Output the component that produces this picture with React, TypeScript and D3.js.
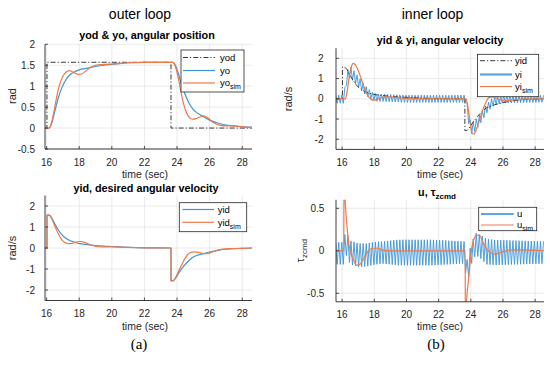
import React from 'react';
import * as d3 from 'd3';

// ---------- DATA ----------
const xTicks = [16, 18, 20, 22, 24, 26, 28];
const yTicksPos = [-0.5, 0, 0.5, 1, 1.5, 2];
const yTicksVel = [-2, -1, 0, 1, 2];
const yTicksU = [-0.5, 0, 0.5];

// outer loop: angular position
const yodT = [15.9, 16.02, 16.021, 23.63, 23.631, 28.6];
const yodV = [0, 0, 1.571, 1.571, 0, 0];
const yoT = [15.9, 16.15, 16.3, 16.5, 16.7, 16.9, 17.1, 17.4, 17.7, 18.0, 18.5, 19.0, 19.5, 20.0, 20.5, 21.0, 22.0, 23.75, 23.9, 24.1, 24.3, 24.5, 24.8, 25.0, 25.5, 26.0, 26.5, 27.0, 27.5, 28.0, 28.6];
const yoV = [0, 0, 0.1, 0.4, 0.7, 0.93, 1.1, 1.26, 1.34, 1.39, 1.43, 1.47, 1.5, 1.52, 1.54, 1.56, 1.57, 1.57, 1.5, 1.28, 1.0, 0.8, 0.55, 0.44, 0.3, 0.19, 0.12, 0.07, 0.05, 0.03, 0.02];
const yoSimT = [15.9, 16.15, 16.3, 16.5, 16.7, 16.9, 17.1, 17.4, 17.65, 17.95, 18.15, 18.4, 18.7, 19.0, 19.5, 20.0, 21.0, 22.0, 23.75, 23.9, 24.1, 24.3, 24.5, 24.7, 24.95, 25.2, 25.45, 25.65, 25.9, 26.2, 26.6, 27.0, 27.5, 28.0, 28.6];
const yoSimV = [0, 0, 0.13, 0.5, 0.9, 1.15, 1.3, 1.37, 1.33, 1.28, 1.29, 1.36, 1.45, 1.5, 1.52, 1.53, 1.56, 1.57, 1.57, 1.47, 1.15, 0.75, 0.45, 0.28, 0.21, 0.23, 0.27, 0.29, 0.24, 0.14, 0.07, 0.05, 0.05, 0.03, 0.01];

// desired angular velocity
const yidT = [15.6, 16.02, 16.021, 16.15, 16.3, 16.5, 16.7, 16.9, 17.2, 17.5, 17.8, 18.1, 18.5, 19.0, 19.5, 20.0, 21.0, 22.0, 23.63, 23.631, 23.75, 23.9, 24.1, 24.4, 24.7, 25.0, 25.5, 26.0, 26.5, 27.0, 27.5, 28.0, 28.6];
const yidV = [0, 0, 1.57, 1.57, 1.45, 1.15, 0.88, 0.66, 0.45, 0.33, 0.25, 0.2, 0.16, 0.12, 0.09, 0.07, 0.03, 0.01, 0, -1.57, -1.57, -1.45, -1.2, -0.88, -0.62, -0.43, -0.29, -0.19, -0.11, -0.06, -0.03, -0.02, 0];
const yidSimT = [15.9, 16.02, 16.021, 16.15, 16.3, 16.5, 16.7, 16.9, 17.1, 17.3, 17.55, 17.8, 18.05, 18.3, 18.6, 18.9, 19.2, 19.6, 20.0, 20.5, 21.0, 22.0, 23.63, 23.631, 23.75, 23.9, 24.1, 24.3, 24.5, 24.7, 24.9, 25.1, 25.4, 25.7, 25.9, 26.2, 26.5, 26.8, 27.2, 28.0, 28.6];
const yidSimV = [0, 0, 1.55, 1.57, 1.42, 1.05, 0.7, 0.42, 0.27, 0.21, 0.22, 0.28, 0.31, 0.28, 0.18, 0.1, 0.06, 0.05, 0.06, 0.04, 0.03, 0.01, 0, -1.55, -1.57, -1.42, -1.1, -0.78, -0.48, -0.28, -0.2, -0.18, -0.22, -0.28, -0.26, -0.18, -0.1, -0.05, -0.03, -0.02, 0];

// inner loop: angular velocity
const yiSimT = [15.6, 16.2, 16.3, 16.4, 16.5, 16.6, 16.7, 16.8, 17.0, 17.2, 17.4, 17.6, 17.8, 18.0, 18.2, 18.5, 18.8, 19.2, 19.6, 20.0, 21.0, 23.7, 23.8, 23.9, 24.0, 24.1, 24.2, 24.3, 24.5, 24.7, 24.9, 25.05, 25.2, 25.35, 25.55, 25.8, 26.1, 26.4, 26.8, 27.2, 28.6];
const yiSimV = [0, 0, 0.3, 0.85, 1.35, 1.65, 1.75, 1.7, 1.4, 0.95, 0.5, 0.15, -0.03, -0.07, -0.02, 0.07, 0.1, 0.08, 0.04, 0.02, 0, 0, -0.3, -0.85, -1.4, -1.72, -1.75, -1.6, -1.15, -0.65, -0.25, 0, 0.08, 0.1, 0.05, -0.05, -0.1, -0.08, -0.04, -0.02, 0];
const yiTrendT = [15.6, 16.1, 16.2, 16.3, 16.45, 16.6, 16.8, 17.0, 17.3, 17.6, 17.9, 18.2, 18.6, 19.0, 20.0, 23.7, 23.8, 23.9, 24.05, 24.2, 24.4, 24.7, 25.0, 25.3, 25.6, 26.0, 28.6];
const yiTrendV = [-0.02, -0.02, 0.5, 1.1, 1.3, 1.25, 1.05, 0.85, 0.55, 0.3, 0.12, 0.05, 0.05, 0.03, 0.0, 0.0, -0.6, -1.2, -1.45, -1.4, -1.2, -0.85, -0.47, -0.2, -0.07, -0.02, 0];
const yiAmpT = [15.6, 16.1, 16.5, 18.0, 23.7, 24.0, 25.5, 28.6];
const yiAmpV = [0.2, 0.2, 0.3, 0.18, 0.18, 0.27, 0.2, 0.17];

// control torque
const uSimT = [15.6, 16.1, 16.12, 16.2, 16.3, 16.4, 16.5, 16.7, 16.9, 17.1, 17.35, 17.6, 17.9, 18.2, 18.5, 19.0, 23.65, 23.66, 23.75, 23.85, 23.95, 24.05, 24.2, 24.35, 24.55, 24.75, 24.95, 25.2, 25.45, 25.7, 26.0, 26.5, 27.0, 28.6];
const uSimV = [0, 0, 0.9, 0.55, 0.3, 0.1, 0.0, -0.1, -0.17, -0.16, -0.09, -0.01, 0.03, 0.03, 0.01, 0, 0, -0.9, -0.55, -0.35, -0.15, 0.02, 0.14, 0.185, 0.18, 0.1, 0.03, -0.02, -0.04, -0.03, -0.01, 0.01, 0.01, 0];
const uTrendT = [15.6, 16.1, 16.2, 16.35, 16.5, 17.0, 17.5, 18.0, 18.5, 23.65, 23.7, 23.85, 24.0, 24.3, 24.6, 25.0, 25.5, 28.6];
const uTrendV = [-0.03, -0.03, 0.1, 0.05, -0.02, -0.05, -0.05, -0.03, -0.02, -0.02, -0.25, -0.2, -0.05, 0.08, 0.05, -0.01, -0.02, -0.02];
const uAmpT = [15.6, 16.1, 16.5, 18.5, 19.5, 21.5, 23.6, 24.0, 25.0, 28.6];
const uAmpV = [0.13, 0.13, 0.14, 0.13, 0.15, 0.15, 0.13, 0.12, 0.15, 0.13];
const oscHalfPeriod = 0.095;

// ---------- STYLE ----------
const BLUE = '#3d95d6';
const ORANGE = '#ee7a4c';
const DASHC = '#3a3a3a';
const AX = '#262626';
const GRID = '#e4e4e4';
const FONT = "'Liberation Sans', Arial, Helvetica, sans-serif";
const SERIF = "'Liberation Serif', 'Times New Roman', serif";
const DASHDOT = '5,2,1.2,2';

type P = [number, number];
const pairs = (T: number[], V: number[]): P[] => T.map((t, i) => [t, V[i]]);

function oscillating(trT: number[], trV: number[], amT: number[], amV: number[], half: number): P[] {
  const tr = d3.scaleLinear().domain(trT).range(trV);
  const am = d3.scaleLinear().domain(amT).range(amV);
  const t0 = trT[0], t1 = trT[trT.length - 1];
  const n = Math.floor((t1 - t0) / half);
  return d3.range(n + 1).map((k) => {
    const t = t0 + k * half;
    return [t, tr(t) + (k % 2 === 0 ? 1 : -1) * am(t)] as P;
  });
}

type Line = { pts: P[]; color: string; width: number; dash?: string; curve?: any };
type LegendEntry = { label: string; sub?: string; color: string; width: number; dash?: string };
type Legend = { x: number; y: number; w: number; h: number; rows: number[]; lx0: number; lx1: number; tx: number; entries: LegendEntry[] };

function Panel(props: {
  id: string; x0: number; x1: number; y0: number; y1: number;
  xDom: [number, number]; yDom: [number, number]; yTicks: number[]; labelRight: number;
  lines: Line[]; legend: Legend;
}) {
  const { id, x0, x1, y0, y1, xDom, yDom, yTicks, labelRight, lines, legend } = props;
  const x = d3.scaleLinear().domain(xDom).range([x0, x1]);
  const y = d3.scaleLinear().domain(yDom).range([y1, y0]);
  const mk = (l: Line) =>
    d3.line<P>().x((d) => x(d[0])).y((d) => y(d[1])).curve(l.curve || d3.curveLinear)(l.pts) || '';
  return (
    <g>
      <defs>
        <clipPath id={'clip-' + id}>
          <rect x={x0} y={y0} width={x1 - x0} height={y1 - y0} />
        </clipPath>
      </defs>
      <rect x={x0} y={y0} width={x1 - x0} height={y1 - y0} fill="#fff" />
      {xTicks.map((t) => (
        <line key={'gx' + t} x1={x(t)} x2={x(t)} y1={y0} y2={y1} stroke={GRID} strokeWidth={0.8} />
      ))}
      {yTicks.map((t) => (
        <line key={'gy' + t} x1={x0} x2={x1} y1={y(t)} y2={y(t)} stroke={GRID} strokeWidth={0.8} />
      ))}
      <g clipPath={`url(#clip-${id})`}>
        {lines.map((l, i) => (
          <path key={i} d={mk(l)} fill="none" stroke={l.color} strokeWidth={l.width} strokeDasharray={l.dash} strokeLinejoin="round" />
        ))}
      </g>
      <line x1={x0} x2={x0} y1={y0} y2={y1} stroke={AX} strokeWidth={0.9} />
      <line x1={x0} x2={x1} y1={y1} y2={y1} stroke={AX} strokeWidth={0.9} />
      {xTicks.map((t) => (
        <g key={'tx' + t}>
          <line x1={x(t)} x2={x(t)} y1={y1} y2={y1 - 3} stroke={AX} strokeWidth={0.8} />
          <text x={x(t)} y={y1 + 16.5} textAnchor="middle" fontSize={10} fill={AX} fontFamily={FONT}>{t}</text>
        </g>
      ))}
      {yTicks.map((t) => (
        <g key={'ty' + t}>
          <line x1={x0} x2={x0 + 3} y1={y(t)} y2={y(t)} stroke={AX} strokeWidth={0.8} />
          <text x={labelRight} y={y(t) + 3.6} textAnchor="end" fontSize={10} fill={AX} fontFamily={FONT}>{String(t)}</text>
        </g>
      ))}
      <rect x={legend.x} y={legend.y} width={legend.w} height={legend.h} fill="#fff" stroke={AX} strokeWidth={0.8} />
      {legend.entries.map((e, i) => (
        <g key={'lg' + i}>
          <line x1={legend.lx0} x2={legend.lx1} y1={legend.rows[i]} y2={legend.rows[i]} stroke={e.color} strokeWidth={e.width} strokeDasharray={e.dash} />
          <text x={legend.tx} y={legend.rows[i] + 3.3} fontSize={9.5} fill="#000" fontFamily={FONT}>
            {e.label}
            {e.sub ? <tspan dy={3} fontSize={7}>{e.sub}</tspan> : null}
          </text>
        </g>
      ))}
    </g>
  );
}

export default function App() {
  const smooth = d3.curveMonotoneX;
  const legendDash = { color: DASHC, width: 1, dash: DASHDOT };
  return (
    <svg width={550} height={367} style={{ position: 'absolute', left: 0, top: 0, background: '#fff' }} fontFamily={FONT}>
      <rect x={0} y={0} width={550} height={367} fill="#fff" />
      <text x={140} y={18.5} textAnchor="middle" fontSize={14} fill="#000">outer loop</text>
      <text x={432.5} y={18.5} textAnchor="middle" fontSize={14} fill="#000">inner loop</text>

      {/* top-left */}
      <text x={147} y={38.5} textAnchor="middle" fontSize={10.8} fontWeight="bold" fill="#000">yod &amp; yo, angular position</text>
      <Panel
        id="tl" x0={45} x1={252} y0={44.3} y1={149} xDom={[15.9, 28.6]} yDom={[-0.5, 2]} yTicks={yTicksPos} labelRight={35}
        lines={[
          { pts: pairs(yodT, yodV), color: DASHC, width: 1, dash: DASHDOT },
          { pts: pairs(yoT, yoV), color: BLUE, width: 1.2, curve: smooth },
          { pts: pairs(yoSimT, yoSimV), color: ORANGE, width: 1.2, curve: smooth },
        ]}
        legend={{
          x: 181, y: 50, w: 63, h: 42, rows: [57.5, 70.5, 83], lx0: 183, lx1: 215, tx: 220,
          entries: [
            { label: 'yod', ...legendDash },
            { label: 'yo', color: BLUE, width: 1.2 },
            { label: 'yo', sub: 'sim', color: ORANGE, width: 1.2 },
          ],
        }}
      />
      <text x={145} y={177.5} textAnchor="middle" fontSize={10.5} fill={AX}>time (sec)</text>
      <text transform="translate(15.5,96) rotate(-90)" textAnchor="middle" fontSize={11} fill={AX}>rad</text>

      {/* top-right */}
      <text x={440} y={44} textAnchor="middle" fontSize={10.8} fontWeight="bold" fill="#000">yid &amp; yi, angular velocity</text>
      <Panel
        id="tr" x0={336} x1={544} y0={48.2} y1={149.4} xDom={[15.62, 28.55]} yDom={[-2.5, 2.5]} yTicks={yTicksVel} labelRight={323.5}
        lines={[
          { pts: oscillating(yiTrendT, yiTrendV, yiAmpT, yiAmpV, oscHalfPeriod), color: BLUE, width: 0.9 },
          { pts: pairs(yidT, yidV), color: DASHC, width: 1, dash: DASHDOT },
          { pts: pairs(yiSimT, yiSimV), color: ORANGE, width: 1.2, curve: smooth },
        ]}
        legend={{
          x: 477.5, y: 54.3, w: 61.2, h: 42.4, rows: [60.7, 74.5, 86.5], lx0: 480, lx1: 512, tx: 515,
          entries: [
            { label: 'yid', ...legendDash },
            { label: 'yi', color: '#5aa6e0', width: 2.2 },
            { label: 'yi', sub: 'sim', color: ORANGE, width: 1.2 },
          ],
        }}
      />
      <text x={440} y={177.5} textAnchor="middle" fontSize={10.5} fill={AX}>time (sec)</text>
      <text transform="translate(291.5,99) rotate(-90)" textAnchor="middle" fontSize={11} fill={AX}>rad/s</text>

      {/* bottom-left */}
      <text x={146} y={191.5} textAnchor="middle" fontSize={10.8} fontWeight="bold" fill="#000">yid, desired angular velocity</text>
      <Panel
        id="bl" x0={45} x1={252} y0={195.5} y1={300.5} xDom={[15.9, 28.6]} yDom={[-2.5, 2.5]} yTicks={yTicksVel} labelRight={35}
        lines={[
          { pts: pairs(yidT, yidV), color: BLUE, width: 1.2, curve: smooth },
          { pts: pairs(yidSimT, yidSimV), color: ORANGE, width: 1.2, curve: smooth },
        ]}
        legend={{
          x: 179.3, y: 202.7, w: 67.4, h: 29, rows: [209.5, 222.3], lx0: 182.3, lx1: 214, tx: 217.7,
          entries: [
            { label: 'yid', color: BLUE, width: 1.2 },
            { label: 'yid', sub: 'sim', color: ORANGE, width: 1.2 },
          ],
        }}
      />
      <text x={145} y={329.5} textAnchor="middle" fontSize={10.5} fill={AX}>time (sec)</text>
      <text transform="translate(15.5,248) rotate(-90)" textAnchor="middle" fontSize={11} fill={AX}>rad/s</text>

      {/* bottom-right */}
      <text x={437} y={195.7} textAnchor="middle" fontSize={10.8} fontWeight="bold" fill="#000">
        u, τ<tspan dy={3} fontSize={8}>zcmd</tspan>
      </text>
      <Panel
        id="br" x0={336} x1={544} y0={199.8} y1={301.8} xDom={[15.62, 28.55]} yDom={[-0.6, 0.6]} yTicks={yTicksU} labelRight={324.3}
        lines={[
          { pts: oscillating(uTrendT, uTrendV, uAmpT, uAmpV, oscHalfPeriod), color: BLUE, width: 0.9 },
          { pts: pairs(uSimT, uSimV), color: ORANGE, width: 1.2, curve: smooth },
        ]}
        legend={{
          x: 478.7, y: 207.3, w: 58, h: 23.4, rows: [214, 225], lx0: 481, lx1: 513.7, tx: 517,
          entries: [
            { label: 'u', color: '#5aa6e0', width: 2.2 },
            { label: 'u', sub: 'sim', color: ORANGE, width: 1.2 },
          ],
        }}
      />
      <text x={440} y={329.5} textAnchor="middle" fontSize={10.5} fill={AX}>time (sec)</text>
      <text transform="translate(304,250.7) rotate(-90)" textAnchor="middle" fontSize={11} fill={AX}>
        τ<tspan dy={3} fontSize={8}>zcmd</tspan>
      </text>

      <text x={139} y={349} textAnchor="middle" fontSize={15} fontFamily={SERIF} fill="#000">(a)</text>
      <text x={436} y={349} textAnchor="middle" fontSize={15} fontFamily={SERIF} fill="#000">(b)</text>
    </svg>
  );
}
